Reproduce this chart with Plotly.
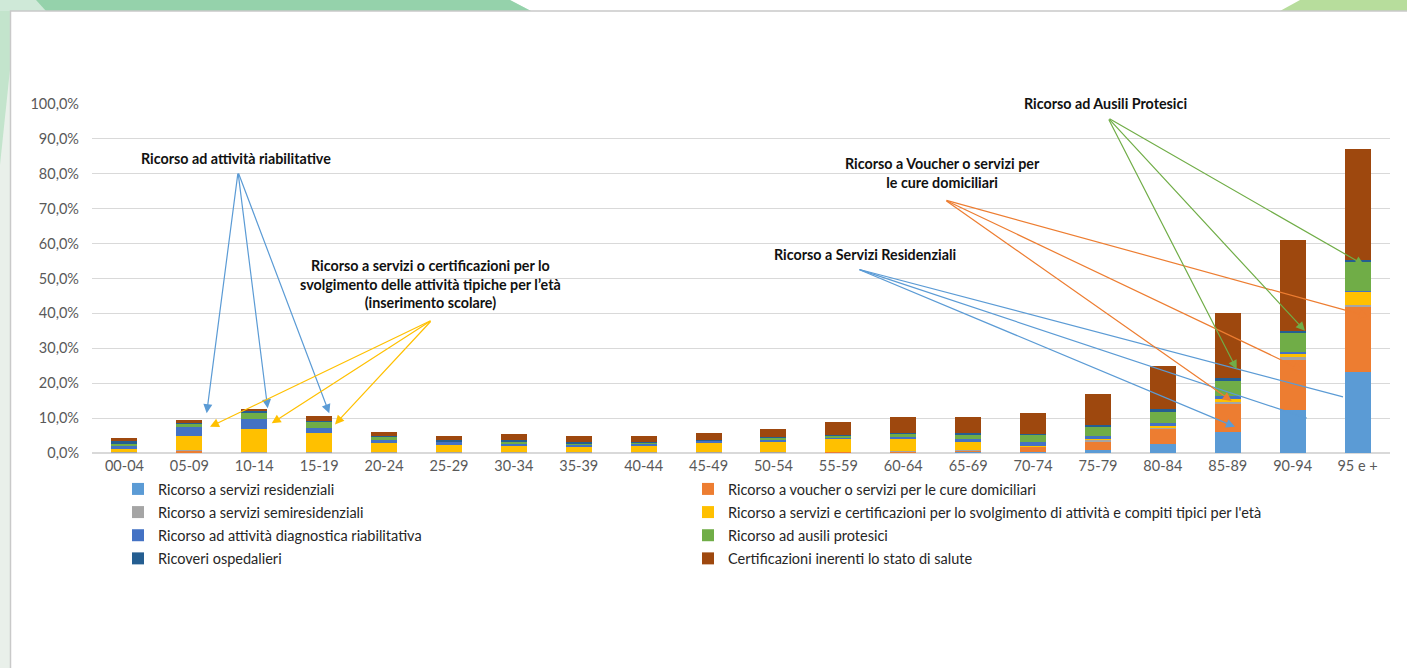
import plotly.graph_objects as go

# ---------------- data (percent) ----------------
categories = ["00-04", "05-09", "10-14", "15-19", "20-24", "25-29", "30-34", "35-39",
              "40-44", "45-49", "50-54", "55-59", "60-64", "65-69", "70-74", "75-79",
              "80-84", "85-89", "90-94", "95 e +"]

residenziali    = [0.0, 0.0, 0.0, 0.0, 0.0, 0.0, 0.0, 0.0, 0.0, 0.0, 0.0, 0.1, 0.1, 0.2, 0.3, 1.0, 2.6, 6.1, 12.3, 23.3]
voucher         = [0.1, 0.7, 0.1, 0.2, 0.1, 0.1, 0.1, 0.1, 0.1, 0.1, 0.2, 0.2, 0.3, 0.6, 1.5, 2.4, 4.2, 8.1, 14.3, 18.6]
semiresidenz    = [0.1, 0.1, 0.1, 0.1, 0.1, 0.1, 0.1, 0.1, 0.1, 0.1, 0.1, 0.1, 0.1, 0.1, 0.1, 0.5, 0.6, 0.5, 0.8, 0.5]
servizi_eta     = [0.9, 4.2, 6.6, 5.3, 2.8, 2.1, 1.8, 1.8, 1.8, 2.6, 2.9, 3.5, 3.4, 2.3, 0.2, 0.2, 0.4, 0.8, 1.2, 3.8]
diagnostica     = [1.1, 2.5, 2.9, 1.6, 0.7, 1.0, 0.8, 0.4, 0.7, 0.7, 0.7, 0.6, 0.6, 0.7, 1.0, 0.8, 0.7, 0.9, 0.4, 0.3]
ausili          = [0.3, 1.0, 2.0, 1.7, 1.0, 0.1, 0.4, 0.1, 0.2, 0.1, 0.4, 0.4, 1.1, 1.5, 2.1, 2.6, 3.3, 4.3, 5.6, 8.3]
ricoveri        = [1.0, 0.2, 0.2, 0.3, 0.2, 0.4, 0.6, 0.7, 0.3, 0.2, 0.2, 0.3, 0.2, 0.3, 0.3, 0.5, 0.7, 0.9, 0.4, 0.5]
certificazioni  = [0.7, 0.7, 0.7, 1.4, 1.2, 1.1, 1.6, 1.8, 1.7, 2.0, 2.4, 3.8, 4.4, 4.7, 6.0, 8.8, 12.5, 18.6, 26.0, 31.7]

series_names = [
    "Ricorso a servizi residenziali",
    "Ricorso a voucher o servizi per le cure domiciliari",
    "Ricorso a servizi semiresidenziali",
    "Ricorso a servizi e certificazioni per lo svolgimento di attività e compiti tipici per l'età",
    "Ricorso ad attività diagnostica riabilitativa",
    "Ricorso ad ausili protesici",
    "Ricoveri ospedalieri",
    "Certificazioni inerenti lo stato di salute",
]
series_values = [residenziali, voucher, semiresidenz, servizi_eta, diagnostica, ausili, ricoveri, certificazioni]
series_colors = ["#5B9BD5", "#ED7D31", "#A5A5A5", "#FFC000", "#4472C4", "#70AD47", "#255E91", "#9E480E"]

# ---------------- geometry ----------------
W, H = 1407, 668
L, R, T, B = 92, 17, 104, 215
PW, PH = W - L - R, H - T - B

def xp(pix):
    return (pix - L) / PW

def yp(pix):
    return (H - B - pix) / PH

FONT = "Lato"

fig = go.Figure()
for i, (name, vals, col) in enumerate(zip(series_names, series_values, series_colors)):
    fig.add_bar(x=categories, y=vals, name=name, marker=dict(color=col, line=dict(width=0)),
                legend="legend" if i % 2 == 0 else "legend2", legendgroup=f"g{i}")

# ---------------- decorations ----------------
shapes = []
shapes.append(dict(type="rect", xref="paper", yref="paper", x0=xp(0), x1=xp(11), y0=yp(668), y1=yp(0),
                   fillcolor="#e9f0ea", line=dict(width=0), layer="below"))
shapes.append(dict(type="path", xref="paper", yref="paper",
                   path=f"M{xp(0)},{yp(0)} L{xp(11)},{yp(0)} L{xp(11)},{yp(60)} L{xp(0)},{yp(165)} Z",
                   fillcolor="#c3e4cc", line=dict(width=0), layer="below"))
shapes.append(dict(type="path", xref="paper", yref="paper",
                   path=f"M{xp(0)},{yp(0)} L{xp(510)},{yp(0)} L{xp(531)},{yp(11)} L{xp(0)},{yp(11)} Z",
                   fillcolor="#cfe9d8", line=dict(width=0), layer="below"))
shapes.append(dict(type="path", xref="paper", yref="paper",
                   path=f"M{xp(36)},{yp(0)} L{xp(510)},{yp(0)} L{xp(531)},{yp(11)} L{xp(46)},{yp(11)} Z",
                   fillcolor="#95d2ab", line=dict(width=0), layer="below"))
shapes.append(dict(type="path", xref="paper", yref="paper",
                   path=f"M{xp(1300)},{yp(0)} L{xp(1407)},{yp(0)} L{xp(1407)},{yp(11)} L{xp(1280)},{yp(11)} Z",
                   fillcolor="#b7dd9c", line=dict(width=0), layer="below"))
shapes.append(dict(type="rect", xref="paper", yref="paper", x0=xp(10.5), x1=xp(1412), y0=yp(672), y1=yp(11),
                   fillcolor="white", line=dict(color="#c9c9c9", width=1.5), layer="below"))

# ---------------- annotations ----------------
annotations = []
TXT = dict(family=FONT, size=14.3, color="#111111")
labels = [
    (1.722, yp(158), "<b>Ricorso ad attività riabilitative</b>"),
    (4.708, yp(284), "<b>Ricorso a servizi o certificazioni per lo<br>svolgimento delle attività tipiche per l’età<br>(inserimento scolare)</b>"),
    (11.41, yp(254), "<b>Ricorso a Servizi Residenziali</b>"),
    (12.61, yp(173), "<b>Ricorso a Voucher o servizi per<br>le cure domiciliari</b>"),
    (15.12, yp(103), "<b>Ricorso ad Ausili Protesici</b>"),
]
for x, y, t in labels:
    annotations.append(dict(x=x, y=y, xref="x", yref="paper", text=t, showarrow=False,
                            xanchor="center", yanchor="middle", font=TXT, align="center"))

arrow_groups = [
    ("#5B9BD5", (1.750, 80.5), [(1.267, 11.4, 2), (2.207, 12.8, 2), (3.156, 11.4, 2)]),
    ("#FFC000", (4.739, 38.1), [(1.318, 7.5, 2), (2.269, 8.5, 2), (3.244, 8.2, 2)]),
    ("#5B9BD5", (11.303, 52.7), [(17.112, 7.5, 2), (18.217, 10.0, 0), (18.776, 16.1, 0)]),
    ("#ED7D31", (12.643, 72.5), [(17.061, 14.9, 2), (18.149, 23.8, 2), (19.166, 39.1, 2)]),
    ("#70AD47", (15.155, 96.0), [(17.138, 24.0, 2), (18.190, 35.0, 2), (19.099, 53.9, 2)]),
]
for col, (tx, ty), heads in arrow_groups:
    for hx, hy, style in heads:
        annotations.append(dict(x=hx, y=hy, xref="x", yref="y", ax=tx, ay=ty, axref="x", ayref="y",
                                text="", showarrow=True, arrowhead=style, arrowsize=1.5,
                                arrowwidth=1.2, arrowcolor=col, standoff=0, startstandoff=0))

legend_common = dict(orientation="v", xanchor="left", yanchor="top", bgcolor="rgba(0,0,0,0)",
                     font=dict(family=FONT, size=14.5, color="#262626"), itemwidth=30,
                     traceorder="grouped", tracegroupgap=1.3)

fig.update_layout(
    width=W, height=H, autosize=False,
    margin=dict(l=L, r=R, t=T, b=B, pad=0),
    barmode="stack", bargap=0.6,
    separators=",.",
    paper_bgcolor="white", plot_bgcolor="rgba(0,0,0,0)",
    font=dict(family=FONT, size=14.5, color="#595959"),
    showlegend=True,
    legend=dict(x=xp(118), y=yp(473), **legend_common),
    legend2=dict(x=xp(688), y=yp(473), **legend_common),
    shapes=shapes,
    annotations=annotations,
    xaxis=dict(type="category", showgrid=False, showline=True, linecolor="#d9d9d9", linewidth=1,
               ticks="", tickfont=dict(family=FONT, size=14.5, color="#595959"), fixedrange=True),
    yaxis=dict(range=[0, 100], dtick=10, tickformat=".1f", ticksuffix="%", showgrid=True,
               gridcolor="#d9d9d9", gridwidth=1, zeroline=True, zerolinecolor="#d9d9d9",
               showline=False, ticks="", ticklabelstandoff=12,
               tickfont=dict(family=FONT, size=14.5, color="#595959"), fixedrange=True),
)

fig.write_html("out.html")
